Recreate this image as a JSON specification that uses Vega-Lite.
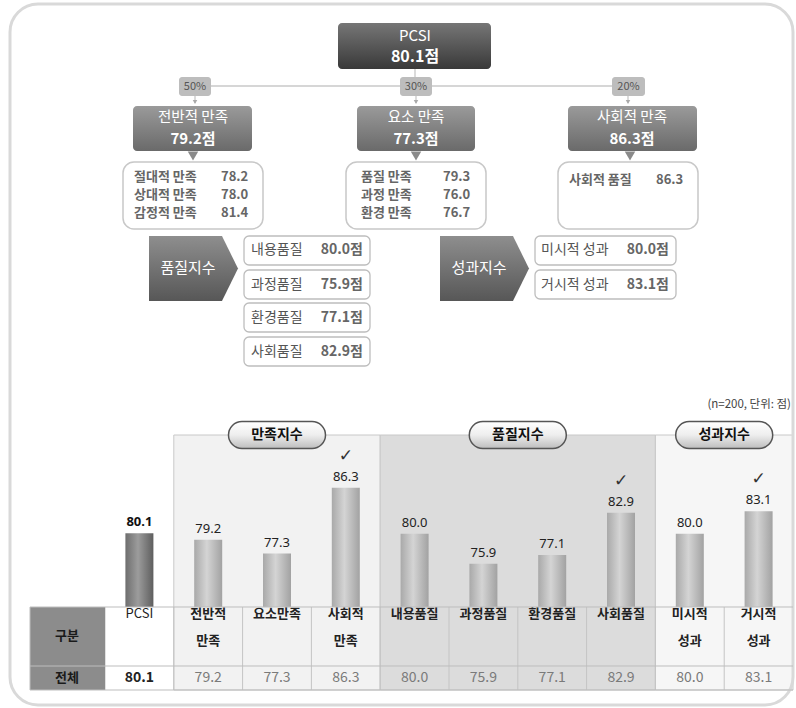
{
  "$schema": "https://vega.github.io/schema/vega-lite/v6.json",
  "width": 796,
  "height": 708,
  "autosize": {"type": "fit", "contains": "padding"},
  "padding": 0,
  "background": "white",
  "config": {
    "view": {"stroke": null},
    "axis": {"disable": true},
    "legend": {"disable": true},
    "font": "Noto Sans CJK KR",
    "text": {"font": "Noto Sans CJK KR"}
  },
  "datasets": {
    "bars": [
      {"col": "PCSI", "label": "PCSI", "value": 80.1, "check": false},
      {"col": "전반적 만족", "label": "전반적\n만족", "value": 79.2, "check": false},
      {"col": "요소만족", "label": "요소만족", "value": 77.3, "check": false},
      {"col": "사회적 만족", "label": "사회적\n만족", "value": 86.3, "check": true},
      {"col": "내용품질", "label": "내용품질", "value": 80.0, "check": false},
      {"col": "과정품질", "label": "과정품질", "value": 75.9, "check": false},
      {"col": "환경품질", "label": "환경품질", "value": 77.1, "check": false},
      {"col": "사회품질", "label": "사회품질", "value": 82.9, "check": true},
      {"col": "미시적 성과", "label": "미시적\n성과", "value": 80.0, "check": false},
      {"col": "거시적 성과", "label": "거시적\n성과", "value": 83.1, "check": true}
    ],
    "groups": [
      {"group": "만족지수", "start": "전반적 만족", "end": "사회적 만족", "mid": "요소만족"},
      {"group": "품질지수", "start": "내용품질", "end": "사회품질", "mid": "환경품질"},
      {"group": "성과지수", "start": "미시적 성과", "end": "거시적 성과", "mid": "거시적 성과"}
    ],
    "boxes": [
      {"kind": "frame", "x": 10, "x2": 793, "y": 4, "y2": 705},
      {"kind": "root", "x": 338, "x2": 491, "y": 23, "y2": 69},
      {"kind": "l1", "x": 133, "x2": 252, "y": 106, "y2": 151},
      {"kind": "l1", "x": 357, "x2": 475, "y": 106, "y2": 151},
      {"kind": "l1", "x": 568, "x2": 697, "y": 106, "y2": 151},
      {"kind": "pct", "x": 179, "x2": 211, "y": 77, "y2": 96},
      {"kind": "pct", "x": 400, "x2": 432, "y": 77, "y2": 96},
      {"kind": "pct", "x": 612, "x2": 645, "y": 77, "y2": 96},
      {"kind": "l2", "x": 123, "x2": 263, "y": 162, "y2": 229},
      {"kind": "l2", "x": 346, "x2": 486, "y": 162, "y2": 229},
      {"kind": "l2", "x": 558, "x2": 698, "y": 162, "y2": 229},
      {"kind": "item", "x": 244, "x2": 370, "y": 236, "y2": 265},
      {"kind": "item", "x": 244, "x2": 370, "y": 270, "y2": 299},
      {"kind": "item", "x": 244, "x2": 370, "y": 303, "y2": 332},
      {"kind": "item", "x": 244, "x2": 370, "y": 337, "y2": 366},
      {"kind": "item", "x": 535, "x2": 676, "y": 236, "y2": 265},
      {"kind": "item", "x": 535, "x2": 676, "y": 270, "y2": 299},
      {"kind": "gubun", "x": 30, "x2": 105, "y": 607, "y2": 666},
      {"kind": "gubun", "x": 30, "x2": 105, "y": 666, "y2": 690}
    ],
    "lines": [
      {"kind": "conn", "x": 415, "x2": 415, "y": 69, "y2": 78},
      {"kind": "conn", "x": 195, "x2": 628, "y": 86, "y2": 86},
      {"kind": "conn", "x": 195, "x2": 195, "y": 96, "y2": 103},
      {"kind": "conn", "x": 416, "x2": 416, "y": 96, "y2": 103},
      {"kind": "conn", "x": 628, "x2": 628, "y": 96, "y2": 103},
      {"kind": "table", "x": 30, "x2": 793, "y": 607, "y2": 607},
      {"kind": "table", "x": 30, "x2": 793, "y": 666, "y2": 666},
      {"kind": "table", "x": 30, "x2": 793, "y": 690, "y2": 690},
      {"kind": "table", "x": 30, "x2": 30, "y": 607, "y2": 690}
    ],
    "marks": [
      {"kind": "small", "x": 195, "y": 102},
      {"kind": "small", "x": 416, "y": 102},
      {"kind": "small", "x": 628, "y": 102},
      {"kind": "big", "x": 193, "y": 156},
      {"kind": "big", "x": 416, "y": 156},
      {"kind": "big", "x": 630, "y": 156},
      {"kind": "pent", "x": 193.5, "y": 268.5},
      {"kind": "pent", "x": 484.5, "y": 268.5}
    ],
    "texts": [
      {"role": "rootLabel", "text": "PCSI", "x": 415, "y": 36},
      {"role": "rootValue", "text": "80.1점", "x": 415, "y": 57},
      {"role": "l1Label", "text": "전반적 만족", "x": 193, "y": 118},
      {"role": "l1Label", "text": "요소 만족", "x": 416, "y": 118},
      {"role": "l1Label", "text": "사회적 만족", "x": 632, "y": 118},
      {"role": "l1Value", "text": "79.2점", "x": 193, "y": 139},
      {"role": "l1Value", "text": "77.3점", "x": 416, "y": 139},
      {"role": "l1Value", "text": "86.3점", "x": 632, "y": 139},
      {"role": "pct", "text": "50%", "x": 195, "y": 87},
      {"role": "pct", "text": "30%", "x": 416, "y": 87},
      {"role": "pct", "text": "20%", "x": 628.5, "y": 87},
      {"role": "l2", "text": "절대적 만족", "x": 134, "y": 177},
      {"role": "l2", "text": "상대적 만족", "x": 134, "y": 195},
      {"role": "l2", "text": "감정적 만족", "x": 134, "y": 213},
      {"role": "l2", "text": "78.2", "x": 221, "y": 177},
      {"role": "l2", "text": "78.0", "x": 221, "y": 195},
      {"role": "l2", "text": "81.4", "x": 221, "y": 213},
      {"role": "l2", "text": "품질 만족", "x": 361, "y": 177},
      {"role": "l2", "text": "과정 만족", "x": 361, "y": 195},
      {"role": "l2", "text": "환경 만족", "x": 361, "y": 213},
      {"role": "l2", "text": "79.3", "x": 443, "y": 177},
      {"role": "l2", "text": "76.0", "x": 443, "y": 195},
      {"role": "l2", "text": "76.7", "x": 443, "y": 213},
      {"role": "l2", "text": "사회적 품질", "x": 569, "y": 180},
      {"role": "l2", "text": "86.3", "x": 656, "y": 180},
      {"role": "pent", "text": "품질지수", "x": 188, "y": 268},
      {"role": "pent", "text": "성과지수", "x": 479, "y": 268},
      {"role": "itemLabel", "text": "내용품질", "x": 251, "y": 250},
      {"role": "itemLabel", "text": "과정품질", "x": 251, "y": 285},
      {"role": "itemLabel", "text": "환경품질", "x": 251, "y": 318},
      {"role": "itemLabel", "text": "사회품질", "x": 251, "y": 352},
      {"role": "itemLabel", "text": "미시적 성과", "x": 541, "y": 250},
      {"role": "itemLabel", "text": "거시적 성과", "x": 541, "y": 285},
      {"role": "itemValue", "text": "80.0점", "x": 363, "y": 250},
      {"role": "itemValue", "text": "75.9점", "x": 363, "y": 285},
      {"role": "itemValue", "text": "77.1점", "x": 363, "y": 318},
      {"role": "itemValue", "text": "82.9점", "x": 363, "y": 352},
      {"role": "itemValue", "text": "80.0점", "x": 669, "y": 250},
      {"role": "itemValue", "text": "83.1점", "x": 669, "y": 285},
      {"role": "note", "text": "(n=200, 단위: 점)", "x": 791, "y": 405},
      {"role": "tableHead", "text": "구분", "x": 67, "y": 636},
      {"role": "tableHead", "text": "전체", "x": 67, "y": 678}
    ]
  },
  "layer": [
    {
      "layer": [
        {
          "data": {"name": "groups"},
          "mark": {"type": "rect", "stroke": "#c8c8c8", "strokeWidth": 1, "x2Offset": 34.4},
          "encoding": {
            "x": {"field": "start", "type": "nominal", "bandPosition": 0, "axis": null,
                  "scale": {"domain": ["PCSI","전반적 만족","요소만족","사회적 만족","내용품질","과정품질","환경품질","사회품질","미시적 성과","거시적 성과"], "range": [105, 793], "paddingInner": 0, "paddingOuter": 0}},
            "x2": {"field": "end"},
            "y": {"datum": 435, "type": "quantitative", "axis": null, "scale": {"domain": [0, 708], "nice": false, "zero": false, "reverse": true}},
            "y2": {"datum": 690},
            "fill": {"field": "group", "type": "nominal", "legend": null,
                     "scale": {"domain": ["만족지수","품질지수","성과지수"], "range": ["#f2f2f2","#dcdcdc","#f6f6f6"]}}
          }
        },
        {
          "data": {"name": "bars"},
          "mark": {"type": "rule", "color": "#c4c4c4", "strokeWidth": 1},
          "encoding": {
            "x": {"field": "col", "type": "nominal", "bandPosition": 0, "axis": null},
            "y": {"datum": 607, "type": "quantitative"},
            "y2": {"datum": 690}
          }
        },
        {
          "data": {"name": "bars"},
          "transform": [{"filter": "datum.col !== 'PCSI'"}],
          "mark": {"type": "text", "fontSize": 13, "fontWeight": "bold", "color": "#222", "baseline": "top", "lineBreak": "\n", "lineHeight": 27},
          "encoding": {
            "x": {"field": "col", "type": "nominal", "axis": null},
            "y": {"datum": 608, "type": "quantitative"},
            "text": {"field": "label"}
          }
        },
        {
          "data": {"name": "bars"},
          "transform": [{"filter": "datum.col === 'PCSI'"}],
          "mark": {"type": "text", "fontSize": 13, "color": "#222", "baseline": "top"},
          "encoding": {
            "x": {"field": "col", "type": "nominal", "axis": null},
            "y": {"datum": 608, "type": "quantitative"},
            "text": {"field": "label"}
          }
        },
        {
          "data": {"name": "bars"},
          "transform": [{"filter": "datum.col === 'PCSI'"}],
          "mark": {"type": "text", "fontSize": 14, "fontWeight": "bold", "color": "#222", "baseline": "middle"},
          "encoding": {
            "x": {"field": "col", "type": "nominal", "axis": null},
            "y": {"datum": 678, "type": "quantitative"},
            "text": {"field": "value", "format": ".1f"}
          }
        },
        {
          "data": {"name": "bars"},
          "transform": [{"filter": "datum.col !== 'PCSI'"}],
          "mark": {"type": "text", "fontSize": 14, "color": "#7a7a7a", "baseline": "middle"},
          "encoding": {
            "x": {"field": "col", "type": "nominal", "axis": null},
            "y": {"datum": 678, "type": "quantitative"},
            "text": {"field": "value", "format": ".1f"}
          }
        },
        {
          "data": {"name": "groups"},
          "transform": [{"filter": "datum.group === '만족지수'"}],
          "encoding": {
            "x": {"field": "mid", "type": "nominal", "bandPosition": 0.5, "axis": null},
            "y": {"datum": 435, "type": "quantitative"}
          },
          "layer": [
            {"mark": {"type": "point", "shape": "M-0.722,-0.278 L0.722,-0.278 A0.278,0.278 0 0 1 0.722,0.278 L-0.722,0.278 A0.278,0.278 0 0 1 -0.722,-0.278 Z", "size": 9409, "filled": true, "opacity": 1, "stroke": "#555", "strokeWidth": 1.5,
              "fill": {"gradient": "linear", "x1": 0, "y1": 0, "x2": 0, "y2": 1, "stops": [{"offset": 0, "color": "#ffffff"}, {"offset": 0.5, "color": "#eeeeee"}, {"offset": 1, "color": "#bdbdbd"}]}}},
            {"mark": {"type": "text", "fontSize": 14, "fontWeight": "bold", "color": "#111", "baseline": "middle"}, "encoding": {"text": {"field": "group"}}}
          ]
        },
        {
          "data": {"name": "groups"},
          "transform": [{"filter": "datum.group !== '만족지수'"}],
          "encoding": {
            "x": {"field": "mid", "type": "nominal", "bandPosition": 0, "axis": null},
            "y": {"datum": 435, "type": "quantitative"}
          },
          "layer": [
            {"mark": {"type": "point", "shape": "M-0.722,-0.278 L0.722,-0.278 A0.278,0.278 0 0 1 0.722,0.278 L-0.722,0.278 A0.278,0.278 0 0 1 -0.722,-0.278 Z", "size": 9409, "filled": true, "opacity": 1, "stroke": "#555", "strokeWidth": 1.5,
              "fill": {"gradient": "linear", "x1": 0, "y1": 0, "x2": 0, "y2": 1, "stops": [{"offset": 0, "color": "#ffffff"}, {"offset": 0.5, "color": "#eeeeee"}, {"offset": 1, "color": "#bdbdbd"}]}}},
            {"mark": {"type": "text", "fontSize": 14, "fontWeight": "bold", "color": "#111", "baseline": "middle"}, "encoding": {"text": {"field": "group"}}}
          ]
        }
      ]
    },
    {
      "data": {"name": "bars"},
      "encoding": {
        "x": {"field": "col", "type": "nominal", "axis": null,
              "scale": {"domain": ["PCSI","전반적 만족","요소만족","사회적 만족","내용품질","과정품질","환경품질","사회품질","미시적 성과","거시적 성과"], "range": [105, 793], "paddingInner": 0, "paddingOuter": 0}},
        "y": {"field": "value", "type": "quantitative", "axis": null, "scale": {"domain": [56.18, 153.03], "nice": false, "zero": false}}
      },
      "layer": [
        {
          "transform": [{"filter": "datum.col === 'PCSI'"}],
          "mark": {"type": "bar", "width": 28,
            "fill": {"gradient": "linear", "x1": 0, "y1": 0, "x2": 1, "y2": 0, "stops": [{"offset": 0, "color": "#6e6e6e"}, {"offset": 0.45, "color": "#9c9c9c"}, {"offset": 1, "color": "#5e5e5e"}]}},
          "encoding": {"y2": {"datum": 70}}
        },
        {
          "transform": [{"filter": "datum.col !== 'PCSI'"}],
          "mark": {"type": "bar", "width": 28,
            "fill": {"gradient": "linear", "x1": 0, "y1": 0, "x2": 1, "y2": 0, "stops": [{"offset": 0, "color": "#a9a9a9"}, {"offset": 0.45, "color": "#d4d4d4"}, {"offset": 1, "color": "#a2a2a2"}]}},
          "encoding": {"y2": {"datum": 70}}
        },
        {
          "transform": [{"filter": "datum.col === 'PCSI'"}],
          "mark": {"type": "text", "font": "Noto Sans", "fontSize": 13, "fontWeight": "bold", "color": "#111", "baseline": "bottom", "dy": -4},
          "encoding": {"text": {"field": "value", "format": ".1f"}}
        },
        {
          "transform": [{"filter": "datum.col !== 'PCSI'"}],
          "mark": {"type": "text", "font": "Noto Sans", "fontSize": 13, "color": "#222", "baseline": "bottom", "dy": -4},
          "encoding": {"text": {"field": "value", "format": ".1f"}}
        },
        {
          "transform": [{"filter": "datum.check"}],
          "mark": {"type": "text", "font": "DejaVu Sans", "fontSize": 17, "color": "#333", "baseline": "bottom", "dy": -23, "text": "✓"}
        }
      ]
    },
    {
      "encoding": {
        "x": {"field": "x", "type": "quantitative", "axis": null, "scale": {"domain": [0, 796], "nice": false, "zero": false}},
        "y": {"field": "y", "type": "quantitative", "axis": null, "scale": {"domain": [0, 708], "nice": false, "zero": false, "reverse": true}}
      },
      "layer": [
        {"data": {"name": "boxes"}, "transform": [{"filter": "datum.kind === 'frame'"}],
         "mark": {"type": "rect", "fillOpacity": 0, "stroke": "#d9d9d9", "strokeWidth": 3, "cornerRadius": 28},
         "encoding": {"x2": {"field": "x2"}, "y2": {"field": "y2"}}},
        {"data": {"name": "lines"}, "transform": [{"filter": "datum.kind === 'conn'"}],
         "mark": {"type": "rule", "color": "#c8c8c8", "strokeWidth": 1.3},
         "encoding": {"x2": {"field": "x2"}, "y2": {"field": "y2"}}},
        {"data": {"name": "boxes"}, "transform": [{"filter": "datum.kind === 'pct'"}],
         "mark": {"type": "rect", "fill": "#bdbdbd", "cornerRadius": 3},
         "encoding": {"x2": {"field": "x2"}, "y2": {"field": "y2"}}},
        {"data": {"name": "boxes"}, "transform": [{"filter": "datum.kind === 'root'"}],
         "mark": {"type": "rect", "cornerRadius": 4,
           "fill": {"gradient": "linear", "x1": 0, "y1": 0, "x2": 0, "y2": 1, "stops": [{"offset": 0, "color": "#767676"}, {"offset": 1, "color": "#393939"}]}},
         "encoding": {"x2": {"field": "x2"}, "y2": {"field": "y2"}}},
        {"data": {"name": "boxes"}, "transform": [{"filter": "datum.kind === 'l1'"}],
         "mark": {"type": "rect", "cornerRadius": 4,
           "fill": {"gradient": "linear", "x1": 0, "y1": 0, "x2": 0, "y2": 1, "stops": [{"offset": 0, "color": "#9a9a9a"}, {"offset": 1, "color": "#6a6a6a"}]}},
         "encoding": {"x2": {"field": "x2"}, "y2": {"field": "y2"}}},
        {"data": {"name": "boxes"}, "transform": [{"filter": "datum.kind === 'l2'"}],
         "mark": {"type": "rect", "fill": "white", "stroke": "#c8c8c8", "strokeWidth": 1.5, "cornerRadius": 11},
         "encoding": {"x2": {"field": "x2"}, "y2": {"field": "y2"}}},
        {"data": {"name": "boxes"}, "transform": [{"filter": "datum.kind === 'item'"}],
         "mark": {"type": "rect", "fill": "white", "stroke": "#bdbdbd", "strokeWidth": 1.3, "cornerRadius": 5},
         "encoding": {"x2": {"field": "x2"}, "y2": {"field": "y2"}}},
        {"data": {"name": "boxes"}, "transform": [{"filter": "datum.kind === 'gubun'"}],
         "mark": {"type": "rect", "fill": "#8c8c8c"},
         "encoding": {"x2": {"field": "x2"}, "y2": {"field": "y2"}}},
        {"data": {"name": "lines"}, "transform": [{"filter": "datum.kind === 'table'"}],
         "mark": {"type": "rule", "color": "#bdbdbd", "strokeWidth": 1},
         "encoding": {"x2": {"field": "x2"}, "y2": {"field": "y2"}}},
        {"data": {"name": "marks"}, "transform": [{"filter": "datum.kind === 'small'"}],
         "mark": {"type": "point", "shape": "triangle-down", "size": 20, "filled": true, "opacity": 1, "color": "#aaaaaa"}},
        {"data": {"name": "marks"}, "transform": [{"filter": "datum.kind === 'big'"}],
         "mark": {"type": "point", "shape": "triangle-down", "size": 110, "filled": true, "opacity": 1, "color": "#8a8a8a"}},
        {"data": {"name": "marks"}, "transform": [{"filter": "datum.kind === 'pent'"}],
         "mark": {"type": "point", "shape": "M-1,-0.73 L0.64,-0.73 L1,0 L0.64,0.73 L-1,0.73 Z", "size": 7921, "filled": true, "opacity": 1,
           "fill": {"gradient": "linear", "x1": 0, "y1": 0, "x2": 0, "y2": 1, "stops": [{"offset": 0, "color": "#8e8e8e"}, {"offset": 1, "color": "#575757"}]}}},
        {"data": {"name": "texts"}, "transform": [{"filter": "datum.role === 'rootLabel'"}],
         "mark": {"type": "text", "fontSize": 15, "color": "white", "baseline": "middle"},
         "encoding": {"text": {"field": "text"}}},
        {"data": {"name": "texts"}, "transform": [{"filter": "datum.role === 'rootValue'"}],
         "mark": {"type": "text", "fontSize": 16, "fontWeight": "bold", "color": "white", "baseline": "middle"},
         "encoding": {"text": {"field": "text"}}},
        {"data": {"name": "texts"}, "transform": [{"filter": "datum.role === 'l1Label'"}],
         "mark": {"type": "text", "fontSize": 14.5, "color": "white", "baseline": "middle"},
         "encoding": {"text": {"field": "text"}}},
        {"data": {"name": "texts"}, "transform": [{"filter": "datum.role === 'l1Value'"}],
         "mark": {"type": "text", "fontSize": 15, "fontWeight": "bold", "color": "white", "baseline": "middle"},
         "encoding": {"text": {"field": "text"}}},
        {"data": {"name": "texts"}, "transform": [{"filter": "datum.role === 'pct'"}],
         "mark": {"type": "text", "fontSize": 11, "color": "#555", "baseline": "middle"},
         "encoding": {"text": {"field": "text"}}},
        {"data": {"name": "texts"}, "transform": [{"filter": "datum.role === 'l2'"}],
         "mark": {"type": "text", "fontSize": 13, "fontWeight": "bold", "color": "#666", "baseline": "middle", "align": "left"},
         "encoding": {"text": {"field": "text"}}},
        {"data": {"name": "texts"}, "transform": [{"filter": "datum.role === 'pent'"}],
         "mark": {"type": "text", "fontSize": 15, "color": "white", "baseline": "middle"},
         "encoding": {"text": {"field": "text"}}},
        {"data": {"name": "texts"}, "transform": [{"filter": "datum.role === 'itemLabel'"}],
         "mark": {"type": "text", "fontSize": 14, "color": "#555", "baseline": "middle", "align": "left"},
         "encoding": {"text": {"field": "text"}}},
        {"data": {"name": "texts"}, "transform": [{"filter": "datum.role === 'itemValue'"}],
         "mark": {"type": "text", "fontSize": 14, "fontWeight": "bold", "color": "#666", "baseline": "middle", "align": "right"},
         "encoding": {"text": {"field": "text"}}},
        {"data": {"name": "texts"}, "transform": [{"filter": "datum.role === 'note'"}],
         "mark": {"type": "text", "fontSize": 11.5, "color": "#444", "baseline": "middle", "align": "right"},
         "encoding": {"text": {"field": "text"}}},
        {"data": {"name": "texts"}, "transform": [{"filter": "datum.role === 'tableHead'"}],
         "mark": {"type": "text", "fontSize": 13, "fontWeight": "bold", "color": "#1a1a1a", "baseline": "middle"},
         "encoding": {"text": {"field": "text"}}}
      ]
    }
  ],
  "resolve": {"scale": {"x": "independent", "y": "independent"}}
}
